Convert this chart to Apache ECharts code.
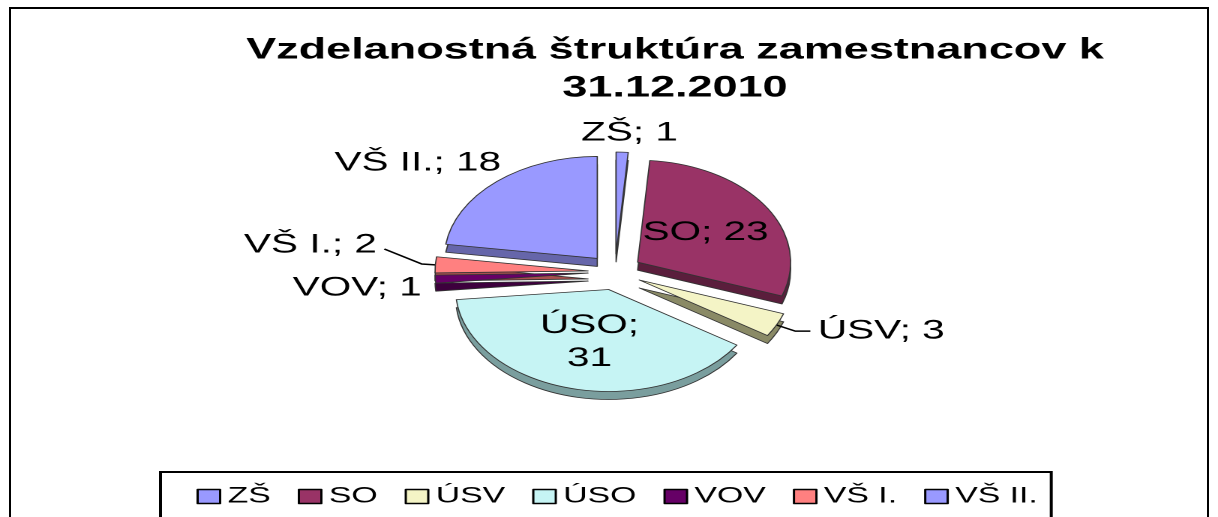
<!DOCTYPE html>
<html lang="sk">
<head>
<meta charset="UTF-8">
<title>Vzdelanostná štruktúra zamestnancov</title>
<script src="https://cdn.jsdelivr.net/npm/echarts@6/dist/echarts.min.js"></script>
<style>
  body { margin: 0; background: #fff; overflow: hidden; }
  #frame { position: absolute; left: 9px; top: 7px; width: 1196px; height: 540px;
           border: 2px solid #000; border-bottom: none; }
  /* the source picture is stretched sideways, so the chart is drawn narrow and widened */
  #main { position: absolute; left: 0; top: 0; width: 812px; height: 517px;
          transform: scaleX(1.5); transform-origin: 0 0; }
</style>
</head>
<body>
<div id="frame"></div>
<div id="main"></div>

<script type="text/javascript">
    // data
    var categories = ['ZŠ', 'SO', 'ÚSV', 'ÚSO', 'VOV', 'VŠ I.', 'VŠ II.'];
    var counts = [1, 23, 3, 31, 1, 2, 18];

    // colours: top face and side face
    var topColors  = ['#9999FF', '#993366', '#F4F4C6', '#C6F4F4', '#660066', '#FF8080', '#9999FF'];
    var sideColors = ['#6666AA', '#5A1E3C', '#8A8A66', '#7A9E9E', '#3D003D', '#A84F4F', '#6666AA'];

    var insideLabels = ['SO', 'ÚSO'];
    var withLine = ['ÚSV', 'VŠ I.'];
    // small nudges so the outside labels sit where the original put them
    var nudge = {'ZŠ': [-43, -5], 'VOV': [13, -7], 'VŠ I.': [-15, -19], 'VŠ II.': [27, -8]};

    var font = 'Liberation Sans, Arial, sans-serif';
    var myChart = echarts.init(document.getElementById('main'), null, {devicePixelRatio: 2});

    var topData = categories.map(function (name, i) {
        var item = {
            name: name,
            value: counts[i],
            selected: true,
            itemStyle: {color: topColors[i]}
        };
        if (insideLabels.indexOf(name) >= 0) {
            item.label = {position: 'inside'};
        }
        if (name === 'ÚSO') {
            item.label.formatter = '{b};\n{c}';
            item.label.lineHeight = 33;
        }
        item.labelLine = {show: withLine.indexOf(name) >= 0};
        return item;
    });

    var sideData = categories.map(function (name, i) {
        return {name: name, value: counts[i], selected: true, itemStyle: {color: sideColors[i]}};
    });

    var option = {
        animation: false,
        title: {
            text: 'Vzdelanostná štruktúra zamestnancov k\n31.12.2010',
            left: 445,
            top: 26,
            textAlign: 'center',
            textStyle: {
                fontFamily: font,
                fontSize: 30,
                fontWeight: 'bold',
                lineHeight: 38,
                color: '#000'
            }
        },
        legend: {
            data: categories,
            left: 107,
            top: 472,
            padding: [13, 9, 40, 24],
            itemGap: 18,
            itemWidth: 15,
            itemHeight: 14,
            icon: 'rect',
            borderColor: '#000',
            borderWidth: 2,
            selectedMode: false,
            itemStyle: {borderColor: '#000', borderWidth: 1.5},
            textStyle: {fontFamily: font, fontSize: 22.5, color: '#000'}
        },
        series: [
            {
                name: 'top',
                type: 'pie',
                center: [410, 272],
                radius: 102,
                startAngle: 90,
                clockwise: true,
                selectedMode: 'multiple',
                selectedOffset: 18,
                z: 3,
                emphasis: {disabled: true},
                itemStyle: {borderColor: '#333', borderWidth: 0.8},
                label: {
                    formatter: '{b}; {c}',
                    fontFamily: font,
                    fontSize: 27,
                    color: '#000'
                },
                labelLine: {
                    length: 14,
                    length2: 10,
                    lineStyle: {color: '#000', width: 1.5}
                },
                labelLayout: function (params) {
                    var n = nudge[categories[params.dataIndex]];
                    if (!n) return {};
                    var res = {dx: n[0], dy: n[1]};
                    var pts = params.labelLinePoints;
                    if (pts && withLine.indexOf(categories[params.dataIndex]) >= 0) {
                        res.labelLinePoints = [
                            pts[0],
                            pts[1],
                            [pts[2][0] + n[0], pts[2][1] + n[1] + 4]
                        ];
                    }
                    return res;
                },
                data: topData
            },
            {
                name: 'side',
                type: 'pie',
                center: [410, 280],
                radius: 102,
                startAngle: 90,
                clockwise: true,
                selectedMode: 'multiple',
                selectedOffset: 18,
                silent: true,
                z: 2,
                emphasis: {disabled: true},
                itemStyle: {borderColor: '#333', borderWidth: 0.8},
                label: {show: false},
                labelLine: {show: false},
                data: sideData
            }
        ]
    };
    myChart.setOption(option);
</script>
</body>
</html>
